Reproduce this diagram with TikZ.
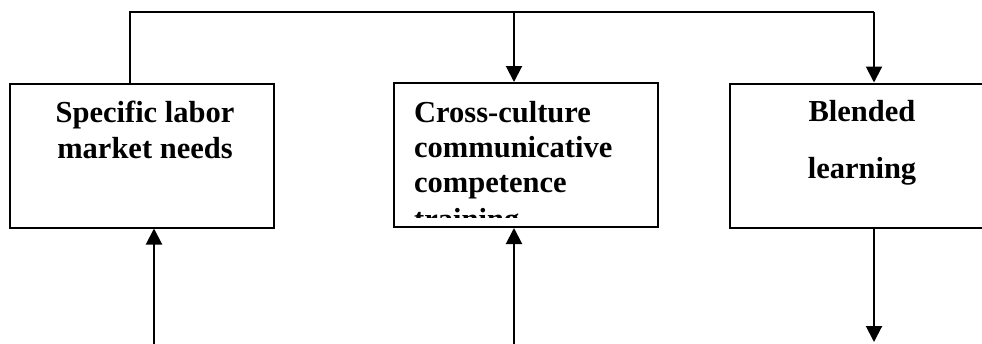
\documentclass[tikz,border=0pt]{standalone}
\usepackage{fontspec}
\setmainfont{Liberation Serif}
\usetikzlibrary{arrows.meta}
\begin{document}
\begin{tikzpicture}[x=1pt,y=-1pt,
  box/.style={draw=black,line width=2pt,fill=white,minimum width=264pt,minimum height=144pt,inner sep=0pt},
  lbl/.style={font=\fontsize{30.5}{36}\selectfont\bfseries,inner sep=0pt},
  link/.style={draw=black,line width=2pt},
  arr/.style={link,-{Triangle[width=16pt,length=16pt]}}]
\useasboundingbox (0,0) rectangle (982,343);

% boxes
\node[box] (lbox) at (142,155.5) {};
\node[box] (mbox) at (526,155) {};
\node[box] (rbox) at (862,155.5) {};

% box texts
\node[lbl,anchor=base] (l1) at (145,122) {Specific labor};
\node[lbl,anchor=base] (l2) at (145,158) {market needs};

\node[lbl,anchor=base west] (m1) at (414,122) {Cross-culture};
\node[lbl,anchor=base west] (m2) at (414,157) {communicative};
\node[lbl,anchor=base west] (m3) at (414,192) {competence};
\begin{scope}
  \clip (396,85) rectangle (656,217);
  \node[lbl,anchor=base west] (m4) at (414,229.5) {training};
\end{scope}

\node[lbl,anchor=base] (r1) at (862,121) {Blended};
\node[lbl,anchor=base] (r2) at (862,178) {learning};

% feedback line across the top
\coordinate (tl) at (130,12);
\coordinate (tm) at (514,12);
\coordinate (tr) at (874,12);
\draw[link] (lbox.north -| tl) -- (tl) -- (tr);
\draw[arr] (tr) -- (rbox.north -| tr);
\draw[arr] (tm) -- (mbox.north -| tm);

% incoming and outgoing arrows at the bottom
\coordinate (bl) at (154,346);
\coordinate (bm) at (514,346);
\coordinate (br) at (874,342);
\draw[arr] (bl) -- (lbox.south -| bl);
\draw[arr] (bm) -- (mbox.south -| bm);
\draw[arr] (rbox.south -| br) -- (br);
\end{tikzpicture}
\end{document}
